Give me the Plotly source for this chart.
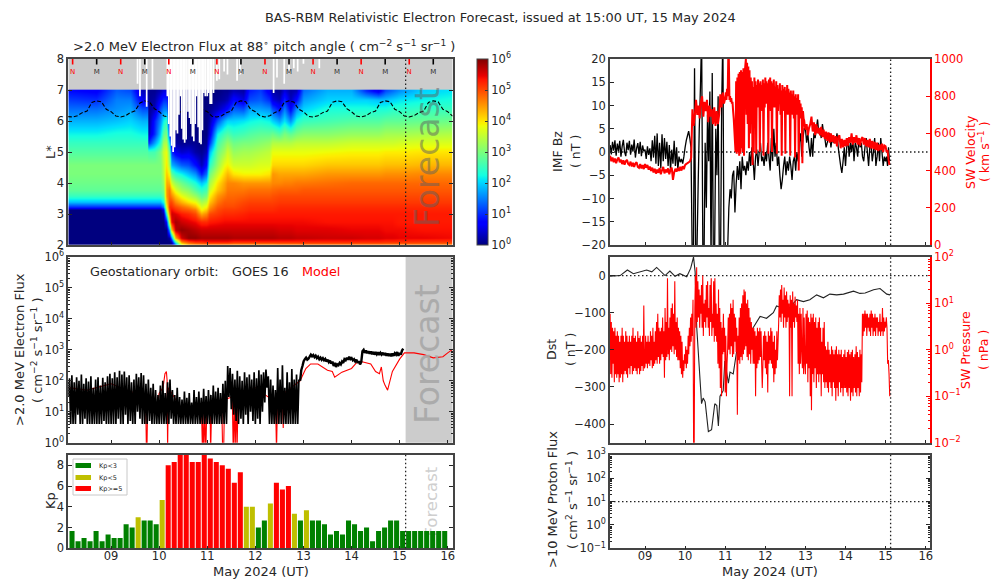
import numpy as np
import plotly.graph_objects as go

W, H = 992, 580
DAYS = [9, 10, 11, 12, 13, 14, 15, 16]
DAY_LABELS = ["09", "10", "11", "12", "13", "14", "15", "16"]
FORECAST_DAY = 15.125

# ---- heat map, log10 of flux, one list per time column, rows follow L_ROWS
L_ROWS = [2.0, 2.1, 2.25, 2.5, 2.75, 3.0, 3.15, 3.25, 3.4, 3.6, 3.8, 4.0, 4.3, 4.6, 5.0, 5.3, 5.6, 6.0, 6.4, 6.7, 6.98]
COL_DAYS = [8.11, 8.7, 9.1, 9.4, 9.65, 9.76, 9.78, 9.9, 10.02, 10.08, 10.14, 10.2, 10.26, 10.34, 10.45, 10.6, 10.75,
            10.88, 10.98, 11.04, 11.2, 11.35, 11.42, 11.55, 11.75, 11.88, 12.1, 12.3, 12.36, 12.5, 12.6, 12.72, 12.85,
            13.0, 13.5, 14.0, 14.3, 14.55, 14.7, 14.85, 15.0, 15.5, 16.11]
COLS = [
 [0,0,0,0,0,0,0,1.0,1.9,2.5,2.8,2.9,3.0,3.0,2.7,2.5,2.2,1.8,1.4,1.1,0.8],
 [0,0,0,0,0,0,0,1.0,1.9,2.5,2.8,2.9,3.0,3.0,2.7,2.5,2.2,1.8,1.4,1.0,0.7],
 [0,0,0,0,0,0,0,1.0,1.9,2.5,2.8,2.9,3.0,3.0,2.7,2.5,2.3,1.9,1.6,1.5,1.3],
 [0,0,0,0,0,0,0,1.0,1.9,2.5,2.8,2.9,3.0,3.0,2.7,2.5,2.3,2.0,1.7,1.5,1.2],
 [0,0,0,0,0,0,0,1.0,1.9,2.5,2.8,2.9,3.0,3.0,2.7,2.5,2.2,1.8,1.2,0.6,0.3],
 [0,0,0,0,0,0,0,1.0,1.9,2.5,2.8,2.9,3.0,3.0,2.7,2.5,2.2,1.8,1.2,0.6,0.3],
 [0,0,0,0,0,0,0,1.0,1.9,2.5,2.8,2.9,3.0,3.0,2.6,1.0,0.3,0.1,0.1,0.1,0.1],
 [0,0,0,0,0,0,0,1.0,1.9,2.5,2.8,2.9,3.0,3.0,2.6,1.7,1.0,0.9,0.3,0.2,0.1],
 [0,0,0,0,0,0,0,1.0,1.9,2.5,2.8,2.9,3.0,3.0,3.0,2.4,2.0,1.6,1.2,0.7,0.3],
 [0,0,0,0,0,0.2,0.6,1.5,2.3,2.8,3.0,3.2,3.4,3.5,3.6,3.3,2.8,2.2,1.5,1.0,0.5],
 [0,0,0,0,0.8,2.5,3.3,3.8,4.2,4.5,4.5,4.4,4.2,4.0,3.8,3.4,3.0,2.5,1.5,1.0,0.5],
 [0,0,0.2,1.8,3.8,4.8,5.1,5.2,5.0,4.8,4.7,4.3,3.8,3.2,2.8,2.0,1.0,0.5,0.3,0.2,0.1],
 [0,0.3,1.5,4.2,5.4,5.6,5.4,5.2,5.0,4.6,4.2,3.6,2.8,1.8,1.0,0.5,0.2,0.1,0,0,0],
 [1.2,2.6,4.4,5.7,5.8,5.5,5.2,5.0,4.6,4.2,3.7,3.2,2.4,1.6,0.6,0.2,0.1,0,0,0,0],
 [3.5,4.6,5.6,5.9,5.6,5.3,5.0,4.8,4.3,3.8,3.3,2.9,2.2,1.3,0.4,0.1,0,0,0,0,0],
 [4.2,5.0,5.9,5.8,5.5,5.2,4.9,4.6,4.0,3.5,3.1,2.6,1.9,1.2,0.5,0.1,0,0,0,0,0],
 [4.4,5.2,5.9,5.7,5.4,5.0,4.7,4.3,3.8,3.2,2.7,2.3,1.6,0.8,0.2,0.1,0,0,0,0,0],
 [4.5,5.2,5.8,5.6,5.2,4.4,3.9,3.7,3.3,2.8,2.4,1.9,0.9,0.3,0.1,0,0,0,0,0,0],
 [4.5,5.3,5.8,5.6,5.2,4.6,4.2,3.9,3.5,3.0,2.6,2.2,1.4,0.8,0.3,0.1,0,0,0,0,0],
 [4.5,5.3,5.8,5.6,5.3,5.0,4.7,4.5,4.2,3.9,3.6,3.3,2.9,2.4,1.8,1.0,0.5,0.2,0.1,0,0],
 [4.5,5.3,5.8,5.6,5.35,5.1,5.0,4.9,4.7,4.5,4.2,4.0,3.6,3.2,2.9,2.6,2.2,1.2,0.3,0.1,0],
 [4.5,5.3,5.8,5.6,5.4,5.2,5.1,5.0,4.9,4.7,4.5,4.4,4.1,3.8,3.3,3.0,2.6,1.8,0.6,0.2,0.1],
 [4.5,5.3,5.8,5.6,5.4,5.2,5.1,5.0,4.9,4.8,4.7,4.6,4.3,3.9,3.6,3.2,2.7,2.0,0.8,0.3,0.1],
 [4.4,5.2,5.75,5.6,5.4,5.2,5.1,5.0,4.9,4.8,4.7,4.6,4.0,3.6,3.2,2.9,2.5,2.0,1.3,0.8,0.3],
 [4.4,5.2,5.75,5.6,5.4,5.25,5.15,5.1,5.0,4.85,4.7,4.5,3.9,3.6,3.3,3.0,2.6,2.1,1.2,0.5,0.2],
 [4.4,5.2,5.75,5.6,5.4,5.3,5.2,5.15,5.05,4.9,4.75,4.5,3.9,3.6,3.3,3.0,2.7,2.2,1.7,1.2,0.9],
 [4.4,5.2,5.75,5.6,5.4,5.3,5.2,5.15,5.05,4.9,4.75,4.5,3.9,3.7,3.4,3.1,2.8,2.3,1.7,1.3,1.1],
 [4.4,5.2,5.75,5.6,5.4,5.3,5.2,5.15,5.05,4.9,4.75,4.5,4.0,3.7,3.5,3.2,2.8,2.2,1.6,1.0,0.6],
 [4.4,5.2,5.75,5.6,5.4,5.3,5.2,5.15,5.05,4.95,4.8,4.6,4.5,4.1,3.8,3.4,2.9,2.0,1.2,0.5,0.2],
 [4.5,5.2,5.7,5.55,5.4,5.3,5.25,5.2,5.1,5.0,4.85,4.6,4.4,4.1,3.8,3.4,2.7,1.7,0.8,0.3,0.1],
 [4.5,5.2,5.7,5.55,5.4,5.3,5.25,5.2,5.1,5.0,4.85,4.65,4.4,4.1,3.8,3.4,3.0,2.1,1.5,1.0,0.5],
 [4.5,5.2,5.7,5.55,5.4,5.3,5.25,5.2,5.1,5.0,4.85,4.65,4.4,4.1,3.8,3.4,2.8,1.6,0.7,0.3,0.2],
 [4.5,5.2,5.65,5.5,5.4,5.3,5.25,5.2,5.1,5.0,4.85,4.7,4.4,4.1,3.8,3.5,3.0,2.3,1.6,0.8,0.3],
 [4.6,5.2,5.65,5.5,5.4,5.3,5.25,5.2,5.1,5.0,4.9,4.7,4.4,4.1,3.8,3.5,3.1,2.5,2.0,1.7,1.4],
 [4.6,5.2,5.6,5.5,5.35,5.3,5.25,5.2,5.1,5.0,4.9,4.75,4.5,4.2,3.85,3.5,3.1,2.6,2.3,2.0,1.8],
 [4.6,5.2,5.6,5.45,5.35,5.3,5.25,5.2,5.1,5.0,4.9,4.8,4.5,4.2,3.9,3.6,3.2,2.7,2.3,2.0,1.8],
 [4.6,5.2,5.55,5.45,5.35,5.3,5.25,5.2,5.1,5.0,4.9,4.8,4.5,4.2,3.9,3.6,3.2,2.7,2.3,2.0,1.0],
 [4.6,5.2,5.55,5.45,5.35,5.3,5.25,5.2,5.1,5.0,4.9,4.8,4.5,4.2,3.9,3.6,3.2,2.7,2.3,1.9,0.6],
 [4.6,5.15,5.5,5.4,5.35,5.3,5.25,5.2,5.1,5.0,4.9,4.8,4.55,4.25,3.95,3.6,3.3,2.8,2.3,1.9,1.2],
 [4.6,5.15,5.5,5.4,5.35,5.3,5.25,5.2,5.1,5.0,4.9,4.8,4.55,4.25,3.95,3.6,3.3,2.8,2.4,2.0,1.4],
 [4.6,5.15,5.45,5.4,5.3,5.3,5.25,5.2,5.1,5.0,4.9,4.8,4.55,4.25,3.95,3.65,3.3,2.8,2.4,2.1,1.6],
 [4.6,5.1,5.45,5.35,5.3,5.3,5.25,5.2,5.1,5.0,4.9,4.8,4.6,4.3,4.0,3.7,3.35,2.85,2.5,2.2,2.0],
 [4.6,5.1,5.4,5.35,5.3,5.3,5.25,5.2,5.1,5.0,4.9,4.8,4.6,4.3,4.0,3.7,3.4,2.9,2.5,2.3,2.1],
]
# white streaks where there is no data: the day and the lowest L they reach
GAP_DAYS = [9.55, 9.60, 9.74, 9.86, 10.17, 10.2, 10.23, 10.26, 10.29, 10.32, 10.35, 10.38, 10.41, 10.44, 10.47, 10.5,
            10.53, 10.56, 10.6, 10.63, 10.66, 10.69, 10.72, 10.75, 10.78, 10.81, 10.84, 10.87, 10.9, 10.93, 10.96,
            11.0, 11.03, 11.06, 11.09, 11.13, 11.2, 11.25, 11.35, 11.42, 11.62, 11.68, 12.38, 12.45, 12.6, 12.7,
            12.8, 12.88, 13.0, 13.33]
GAP_LOW = [7.2, 6.8, 6.46, 7.05, 6.8, 5.9, 5.5, 5.2, 5.0, 5.15, 5.7, 5.6, 6.2, 6.8, 5.75, 5.4,
           5.3, 5.4, 6.3, 6.1, 5.9, 5.5, 5.35, 5.9, 6.8, 5.8, 5.3, 5.25, 5.7, 6.9, 6.8,
           6.8, 6.9, 6.55, 6.55, 6.9, 7.3, 7.35, 7.6, 7.5, 7.3, 7.5, 6.9, 7.4, 7.2, 7.6,
           7.7, 7.6, 7.85, 7.7]
GEO_L = [6.14, 6.13, 6.17, 6.27, 6.32, 6.6, 6.65, 6.62, 6.38, 6.3, 6.16,
         6.13, 6.17, 6.27, 6.33, 6.58, 6.65, 6.61, 6.4, 6.3, 6.16,
         6.13, 6.18, 6.27, 6.32, 6.6, 6.65, 6.62, 6.38, 6.3, 6.15,
         6.13, 6.17, 6.27, 6.32, 6.6, 6.65, 6.62, 6.38, 6.3, 6.16,
         6.13, 6.17, 6.27, 6.33, 6.6, 6.65, 6.61, 6.38, 6.3, 6.15,
         6.13, 6.17, 6.27, 6.32, 6.6, 6.65, 6.62, 6.4, 6.3, 6.16,
         6.13, 6.17, 6.27, 6.32, 6.6, 6.65, 6.62, 6.38, 6.3, 6.16,
         6.13, 6.17, 6.27, 6.32, 6.6, 6.65, 6.62, 6.38, 6.3, 6.16]
NOON_DAYS = [8.2, 9.2, 10.2, 11.2, 12.2, 13.2, 14.2, 15.2]
MIDNIGHT_DAYS = [8.7, 9.7, 10.7, 11.7, 12.7, 13.7, 14.7, 15.7]

# ---- GOES flux, one list per stretch of time
GOES_STORM = [
 (8.11, 9.0, [30,120,4,150,4,90,4,130,8,100,4,160,4,80,6,120,4,95,4,140,4,60,4,110,4,130,4,70,4,125,5,90,4,140,4,170]),
 (9.0, 10.0, [4,120,4,190,4,130,6,210,4,160,4,200,8,130,4,150,5,90,4,110,4,170,10,130,6,180,4,150,4,80,4,110,5,60,4,80,4,50,4,35]),
 (10.0, 11.0, [4,70,4,100,4,40,4,90,4,110,6,50,4,35,4,60,4,30,4,25,4,45,4,28,4,40,4,20,4,50,4,30,4,45,4,28,4,55,4,32]),
 (11.0, 12.0, [4,50,4,35,4,70,4,45,4,60,4,40,4,80,4,100,4,300,30,260,12,170,8,110,5,210,4,140,6,100,4,190,8,130,4,160,10,110,5,190]),
 (12.0, 12.93, [4,120,6,220,4,160,10,190,20,230,60,140,4,110,4,70,4,50,4,260,4,110,4,320,4,60,4,190,4,90,4,240,4,110,4,160,4,110]),
]
GOES_AFTER = [
 (12.93, 15.1, [100,220,300,430,500,560,480,520,600,700,620,680,580,650,540,600,500,560,480,540,460,510,420,480,400,450,360,420,
                300,380,280,340,320,380,340,420,380,500,460,560,480,600,500,540,460,500,420,480,380,430,340,400,900,1000,800,950,
                780,900,750,880,720,860,700,850,720,830,680,800,700,810,680,790,650,760,640,740,620,760,640,780,700,850,640,800,700,950,1100]),
]
MODEL_DAYS = [8.11, 8.5, 9.0, 9.5, 9.72, 9.735, 9.745, 9.76, 9.85, 9.95, 10.0, 10.08, 10.12, 10.15, 10.165, 10.175, 10.19, 10.5, 10.88, 10.9, 10.91,
              10.93, 10.95, 10.97, 10.99, 11.06, 11.07, 11.09, 11.3, 11.32, 11.34, 11.36, 11.52, 11.54, 11.56, 11.58, 11.6, 11.62, 11.64, 12.0,
              12.42, 12.44, 12.46, 12.56, 12.58, 12.6, 12.93, 13.05, 13.15, 13.3, 13.5, 13.6, 13.65, 13.8, 14.0, 14.1, 14.2, 14.4, 14.5,
              14.58, 14.62, 14.66, 14.7, 14.75, 14.85, 15.0, 15.1, 15.3, 15.5, 15.7, 15.9, 16.0, 16.11]
MODEL_FLUX = [60, 50, 80, 40, 20, 0.5, 0.5, 20, 11, 12, 40, 60, 170, 200, 100, 0.5, 60, 10, 12, 0.5, 12,
              0.5, 10, 0.5, 12, 10, 0.5, 12, 25, 0.5, 0.5, 25, 30, 0.5, 20, 0.5, 25, 0.5, 30, 60,
              20, 0.5, 20, 30, 3, 40, 100, 250, 350, 350, 220, 200, 130, 190, 250, 380, 420, 350, 200,
              170, 280, 100, 70, 50, 200, 500, 800, 800, 700, 550, 600, 800, 1050]

# ---- Kp, one value for each three hours from 8.125
KP_VALUES = [1.67,.67,1,.67,1.67,.67,1.33,1,1,2.33,2,3,2.67,2.67,2.33,4.67,8,8.33,9,9,8.33,8.33,9,8.67,8.33,8,7.67,6.33,7.33,
             4,4,2,2.67,4.33,6.33,5.67,6,3.33,2.67,3.67,2.67,2.67,2.33,1.33,1.67,1.33,2.67,2.33,1.67,2,.67,1.67,2,2.67,2.67,
             1.67,1.67,1.67,1.67,1.67,1.67,1.67,1.67]
KP_FIRST_DAY = 8.125
KP_STEP = 0.125

# ---- solar wind and Dst
BZ_SEGMENTS = [
 (8.13, 9.0, [1.5,-.5,2.2,.3,2.5,-.8,1.8,.2,2.4,-1,1.2,2.6,0,-.9,2,.4,2.4,-.6,1.6,.1,2.7,-1.2,.8,1.9,-.4,2.2,-.9,1.4,.2]),
 (9.0, 10.0, [.5,-1.5,1.2,-.6,.8,-2,2.5,-1.2,3.5,-2.5,4,-3,2,-3.5,3.8,-2,3,-1.5,2.2,-3,1.5,-4,.5,-2.5,2.4,-3,1,-3.8,-1,-2.2,-1.5,-2.5,-1]),
 (10.0, 11.0, [1,2.5,3.5,4.5,3,1,-22,-25,18,-24,-22,-8,5,14,25,-20,-24,2,-12,8,-2,13,-24,17,-25,-22,5,-5,12,-22,-25,10,25,-24]),
 (11.0, 12.0, [-22,-25,-21,-12,-8,-10,-5,-4,-13,-7,-3,-6,-2,-8,-1,-4,-3,-5,-2,-4,0,-3,1,-2,-6,-1,.5,-3,0,2,-2,-1,-3]),
 (12.0, 13.0, [0,-2,2,-1,-4,3,-2,5,-1,2,-3,-1,-5,-8,-6,-3,-1,-5,-2,-4,-1,-3,-6,-2,-1,-4,0,-2,2,4,-1,3,5]),
 (13.0, 14.0, [5,2,4,1,-1,3,-1,4,3,5,7,4,5,3,6,4,3,1,2,3,4,1,3,2,3,2,4,1,-1,-3,-4.5,-2,1]),
 (14.0, 15.0, [-3,1,3,-1,2,0,3,-2,2,1,-1,3,1,2,-1,-2,1,3,0,-3,1,2,-2,0,3,-3,-1,2,-2,3,0,-3,-1]),
 (15.0, 15.12, [-2,-1,-3,1,-2]),
]
SPEED_SEGMENTS = [
 (8.13, 9.0, [480,450,470,445,465,440,460,470,445,458,435,455,432,450,458,436,430,448,422,442,420,438,445,420,415,435,412,430,408]),
 (9.0, 10.0, [435,415,430,405,422,398,416,390,410,384,405,388,414,380,402,420,385,406,390,412,380,405,416,350,390,410,394,414,398,420,400,424,408]),
 (10.0, 11.0, [430,436,440,445,450,470,730,640,700,780,700,750,680,770,800,690,770,720,780,660,750,690,730,650,740,640,720,650,700,810,740,820,760]),
 (11.0, 12.0, [790,820,780,840,800,1000,1000,780,800,770,790,760,770,720,680,620,560,500,
               880,490,900,500,920,480,930,490,940,520,930,500,950,480,920,
               960,1000,700,980,650,960,520,940,600,900,760,880,430,850,500,
               900,780,880,490,860,740,890,780,870,500,880,760,860,720,890,480,870,740]),
 (12.0, 13.0, [900,760,880,800,870,490,890,760,900,720,880,500,870,780,890,740,850,760,880,490,860,720,840,780,870,700,830,480,860,760,
               840,720,850,490,830,740,860,700,840,720,820,480,830,720,810,700,830,680,800,470,810,720,790,700,810,400,780,700,760,680,740,440,720,680,670,640]),
 (13.0, 14.0, [620,650,590,630,650,690,610,660,590,650,600,630,590,635,580,620,570,610,560,605,550,600,555,590,545,585,530,580,590,520,570,525,565]),
 (14.0, 15.0, [530,575,535,580,550,600,540,580,550,590,540,575,535,570,580,540,575,530,565,525,570,520,560,515,555,510,550,505,540,510,545,500,535]),
 (15.0, 15.12, [530,500,510,460,430]),
]
PRESSURE_SEGMENTS = [
 (8.13, 9.0, [6,.3,4,.25,3,.5,2.5,.2,3,.3,2,.25,2.5,.3,2,.2,1.5,.25,2,.3,3,.2,2,.3,1.5,.35,2.5,.3,2,.25,
              1.5,.4,2,.3,1.5,.45,2,.3,3,.35,1.8,.4,2,.35,1.5,.3,2.5,.4,1.8,.3,2,.35,1.5,.45,2,.35,9,.4]),
 (9.0, 10.0, [.45,2,.5,1.5,.4,2,.5,1.5,.45,2.5,.6,2,.4,3,.45,1.5,.5,2.5,.6,4,.5,6,.7,3,.5,2.5,.6,3,.8,5,.7,2.5,.25,
              8,.6,4,.7,35,.8,3,.6,5,1,8,.9,10,1.2,6,.8,30,1,4,.7,5,.6,3,.6,2.5,.4,2,.3,1.5,.25,.6,.35,.8]),
 (10.0, 11.0, [.5,1.2,.4,1,.5,2,.8,3,1.2,5,1.5,6,2,12,.01,.01,8,40,3,60,4,30,5,20,3,15,6,25,3,40,2,10,4,12,3,25,5,30,3,8,2,25,4,35,2,6,3,30,
               1.5,35,2,10,1.5,6,.5,20,.4,8,.15,4,.1,3,.8,6,.9,3]),
 (11.0, 12.0, [.12,2,.1,.5,1,5,1,6,.8,10,1.2,8,.7,12,.8,6,1.5,5,.9,3,.04,2,.6,5,.5,8,.7,10,.6,15,.8,20,1,18,1.2,10,.7,12,.6,8,.8,5,.5,4,1,3,.5,3,.5,
               2.5,.1,2,.4,3,.5,2.5,.6,3,.7,2.5,.5,.15,.45,2,.6,2.5]),
 (12.0, 13.0, [.4,2,.3,1.5,.12,2.5,.5,2,.6,3,.5,2.5,.4,1.5,.2,2,.3,1,.4,2.5,.6,1.5,4,15,5,20,4,25,6,12,3,22,5,15,3,18,4,12,5,10,.1,15,3,12,.1,18,4,10,3,14,5,9,4,12,
               .5,6,.3,8,.5,6,1,.4,8,.3,5,.5]),
 (13.0, 14.0, [.3,6,.5,7,.2,5,.4,4,.1,6,.05,5,.3,6,.2,4,.4,5,.15,3,.3,4,.2,5,.3,3,.1,1.5,.3,3,.2,4,.15,1.2,.2,1,.15,1.5,.12,1,.2,.8,.15,1.2,.1,1,.2,.8,.15,1,.08,1.2,.15,.8,.1,1,.2,.8,.12,1,.15,.7,.1,.8,.15,1]),
 (14.0, 15.0, [.15,.7,.12,.9,.1,1,.15,.8,.08,.9,.12,1,.1,.7,.15,.8,.12,1.2,.1,.9,.15,.7,.1,1,.12,.8,.2,6,2,6,2.5,7,3,6,2,6,3,5,2.5,6,2,7,3,6,2,5,2.5,6,2,5,3,5,2,4,2.5,6,2,4,2.5,8,2,5,2.5,4]),
 (15.0, 15.12, [3,5,3,.5,.6,.3,.1]),
]
DST_DAYS = [8.13,8.38,8.56,8.71,9.04,9.17,9.29,9.5,9.62,9.75,9.87,10.04,10.14,10.21,10.25,10.29,10.41,10.45,10.5,10.58,10.66,10.74,
            10.79,10.83,10.87,10.95,10.99,11.08,11.12,11.2,11.29,11.37,11.54,11.7,11.87,12.03,12.2,12.28,12.37,12.49,12.62,12.78,
            12.95,13.11,13.28,13.45,13.61,13.78,13.95,14.2,14.36,14.49,14.7,14.86,15.03,15.11]
DST_VALUES = [-2,0,15,5,15,10,22,0,12,-2,5,-3,20,50,10,-140,-345,-330,-340,-420,-415,-345,-350,-405,-325,-310,-230,-290,-260,-265,
              -200,-180,-165,-140,-110,-115,-100,-82,-85,-100,-85,-65,-70,-65,-52,-60,-50,-52,-50,-42,-48,-47,-38,-35,-50,-52]

TITLE = "BAS-RBM Relativistic Electron Forecast, issued at 15:00 UT, 15 May 2024"
TITLE_FLUX = ">2.0 MeV Electron Flux at 88<sup>∘</sup> pitch angle ( cm<sup>−2</sup> s<sup>−1</sup> sr<sup>−1</sup> )"
FONT = "DejaVu Sans"
INK = "#262626"
JET = [[0, "#00007f"], [.11, "#0000ff"], [.125, "#0000ff"], [.34, "#00dbff"], [.35, "#00e6f7"], [.375, "#14ffe2"],
       [.64, "#eeff08"], [.65, "#f7f500"], [.66, "#ffec00"], [.89, "#ff1300"], [.91, "#e80000"], [1, "#7f0000"]]
KP_GREEN, KP_YELLOW, KP_RED = "#008000", "#bfbf00", "#ff0000"


def expand(segments):
    xs, ys = [], []
    for start, end, vals in segments:
        n = len(vals)
        xs += [start + (end - start) * i / n for i in range(n)]
        ys += vals
    return xs, ys


def px(x):
    return x / W


def py(y):
    return 1 - y / H


def seg(xs, lo, hi):
    ox, oy = [], []
    for i, x in enumerate(xs):
        l = lo[i] if isinstance(lo, list) else lo
        ox += [x, x, None]
        oy += [hi, l, None]
    return ox, oy


LEFT = (68.3, 452.7)
RIGHT = (610, 930)
ROW1 = (59, 245)
ROW2 = (257, 442.7)
ROW3 = (455, 548.3)
XL = [8.11, 16.104]
XR = [8.127, 16.107]


def line(color, width):
    return dict(color=color, width=width, simplify=False)


def xaxis(dom, rng, anchor, labels=False):
    return dict(domain=[px(dom[0]), px(dom[1])], range=rng, anchor=anchor, tickmode="array", tickvals=DAYS,
                ticktext=DAY_LABELS if labels else [""] * 8, showticklabels=labels, ticks="inside", ticklen=3,
                tickcolor=INK, showgrid=False, zeroline=False, showline=True, linecolor="#444", linewidth=1.6,
                mirror=True, tickfont=dict(size=11.5, color=INK), ticklabelstandoff=-4)


def yaxis(row, anchor, **kw):
    base = dict(domain=[py(row[1]), py(row[0])], anchor=anchor, showgrid=False, zeroline=False, showline=True,
                linecolor="#444", linewidth=1.6, ticks="inside", ticklen=4, tickcolor=INK,
                tickfont=dict(size=11.5, color=INK))
    base.update(kw)
    return base


def logaxis(row, anchor, lo, hi, color=None, **kw):
    vals = [10.0 ** e for e in range(lo, hi + 1)]
    text = [f"10<sup>{str(e).replace('-', '−')}</sup>" for e in range(lo, hi + 1)]
    d = yaxis(row, anchor, type="log", range=[lo, hi], tickmode="array", tickvals=vals, ticktext=text,
              minor=dict(ticks="inside", ticklen=2, tickcolor=color or INK, dtick="D1", showgrid=False), **kw)
    return d


fig = go.Figure()
z = np.array(COLS).T
z = np.vstack([z, z[-1]])
fig.add_trace(go.Heatmap(x=COL_DAYS, y=L_ROWS + [7.0], z=z, zmin=0, zmax=6, zsmooth="best", colorscale=JET,
                         xaxis="x", yaxis="y", hoverinfo="skip",
                         colorbar=dict(x=px(477), xanchor="left", y=py(59), yanchor="top", lenmode="pixels", len=186,
                                       thickness=11, xpad=0, ypad=0, outlinewidth=1, outlinecolor="#444",
                                       tickmode="array", tickvals=[0, 1, 2, 3, 4, 5, 6],
                                       ticktext=[f"10<sup>{e}</sup>" for e in range(7)],
                                       ticks="inside", ticklen=3, tickcolor="#333", tickfont=dict(size=11.5, color=INK))))
geo_x = [8.1 + 0.1 * i for i in range(len(GEO_L))]
fig.add_trace(go.Scatter(x=geo_x, y=GEO_L, mode="lines", line=dict(color="black", width=1.1, dash="4px,2px"),
                         xaxis="x", yaxis="y", showlegend=False))
gx, gy = seg(GAP_DAYS, GAP_LOW, 8)
fig.add_trace(go.Scatter(x=gx, y=gy, mode="lines", line=dict(color="white", width=1.7), xaxis="x", yaxis="y",
                         showlegend=False))
for days, col, mark in [(NOON_DAYS, "red", "N"), (MIDNIGHT_DAYS, "black", "M")]:
    tx, ty = seg(days, 7.82, 8)
    fig.add_trace(go.Scatter(x=tx, y=ty, mode="lines", line=dict(color=col, width=1.6), xaxis="x", yaxis="y",
                             showlegend=False))
    fig.add_trace(go.Scatter(x=days, y=[7.58] * len(days), mode="text", text=[mark] * len(days),
                             textfont=dict(size=7, color=col if mark == "N" else "#333"), xaxis="x", yaxis="y",
                             showlegend=False))

fig.add_trace(go.Scatter(x=MODEL_DAYS, y=MODEL_FLUX, mode="lines", line=line("red", 1.1), xaxis="x2",
                         yaxis="y2", showlegend=False))
g1x, g1y = expand(GOES_STORM)
fig.add_trace(go.Scatter(x=g1x, y=g1y, mode="lines", line=line("black", 1.7), xaxis="x2", yaxis="y2", showlegend=False))
g2x, g2y = expand(GOES_AFTER)
fig.add_trace(go.Scatter(x=g2x, y=g2y, mode="lines", line=line("black", 2.4), xaxis="x2", yaxis="y2", showlegend=False))

kp_x = [KP_FIRST_DAY + KP_STEP * (i + 0.5) for i in range(len(KP_VALUES))]
for name, col, test in [("Kp&lt;3", KP_GREEN, lambda v: v < 3), ("Kp&lt;5", KP_YELLOW, lambda v: 3 <= v < 5),
                        ("Kp&gt;=5", KP_RED, lambda v: v >= 5)]:
    idx = [i for i, v in enumerate(KP_VALUES) if test(v)]
    fig.add_trace(go.Bar(x=[kp_x[i] for i in idx], y=[KP_VALUES[i] for i in idx], width=0.105, marker_color=col,
                         marker_line_width=0, name=name, xaxis="x3", yaxis="y3", showlegend=False))

bx, by = expand(BZ_SEGMENTS)
fig.add_trace(go.Scatter(x=bx, y=by, mode="lines", line=line("black", 1.3), xaxis="x4", yaxis="y4", showlegend=False))
vx, vy = expand(SPEED_SEGMENTS)
fig.add_trace(go.Scatter(x=vx, y=vy, mode="lines", line=line("red", 2), xaxis="x4", yaxis="y5", showlegend=False))
fig.add_trace(go.Scatter(x=DST_DAYS, y=DST_VALUES, mode="lines", line=line("#222", 1.1), xaxis="x5",
                         yaxis="y6", showlegend=False))
sx, sy = expand(PRESSURE_SEGMENTS)
fig.add_trace(go.Scatter(x=sx, y=sy, mode="lines", line=line("red", 1.1), xaxis="x5", yaxis="y7", showlegend=False))
fig.add_trace(go.Scatter(x=[9], y=[1e9], mode="markers", marker=dict(opacity=0), xaxis="x6", yaxis="y8", showlegend=False))

DOT = dict(color="#222", width=1.3, dash="1.5px,2.5px")
shapes = [
    dict(type="rect", xref="x", yref="y", x0=XL[0], x1=XL[1], y0=7, y1=8, fillcolor="#cccccc", line_width=0, layer="below"),
    dict(type="rect", xref="x2", yref="y2 domain", x0=15.125, x1=XL[1], y0=0, y1=1, fillcolor="#cccccc", line_width=0, layer="below"),
    dict(type="rect", xref="x3", yref="y3", x0=15.175, x1=16.1, y0=0.3, y1=8.7, fillcolor="rgba(0,0,0,0)", line_width=0,
         layer="below", label=dict(text="Forecast", textangle=-90, textposition="middle center",
                                   font=dict(size=16.5, color="#cfcfcf", family=FONT))),
]
for xr, yr in [("x", "y domain"), ("x3", "y3 domain"), ("x4", "y4 domain"), ("x5", "y6 domain"), ("x6", "y8 domain")]:
    shapes.append(dict(type="line", xref=xr, yref=yr, x0=FORECAST_DAY, x1=FORECAST_DAY, y0=0, y1=1, line=DOT, layer="above"))
shapes.append(dict(type="line", xref="x4 domain", yref="y4", x0=0, x1=1, y0=0, y1=0, line=DOT, layer="below"))
shapes.append(dict(type="line", xref="x5 domain", yref="y6", x0=0, x1=1, y0=0, y1=0, line=DOT, layer="below"))
shapes.append(dict(type="line", xref="x6 domain", yref="y8", x0=0, x1=1, y0=10, y1=10, line=DOT, layer="above"))

# legend box of the Kp panel
def box(x0, x1, y0, y1, fill, edge=None):
    return dict(type="rect", xref="paper", yref="paper", x0=px(x0), x1=px(x1), y0=py(y1), y1=py(y0), fillcolor=fill,
                line=dict(color=edge or fill, width=1 if edge else 0), layer="above")


shapes += [box(73, 127, 459, 495, "white", "#c8c8c8"), box(75.5, 91, 463, 468, KP_GREEN),
           box(75.5, 91, 475, 480, KP_YELLOW), box(75.5, 91, 486, 491, KP_RED)]


def note(x, y, text, size=13, color=INK, angle=0, anchor="center", op=1):
    return dict(xref="paper", yref="paper", x=px(x), y=py(y), text=text, showarrow=False, textangle=angle,
                font=dict(size=size, color=color, family=FONT), xanchor=anchor, yanchor="middle", opacity=op)


ann = [
    note(500, 17, TITLE, 12.9),
    note(71, 46, TITLE_FLUX, 13, anchor="left"),
    note(50, 152, "L*", 13, angle=-90),
    note(427, 157, "Forecast", 33, "#606060", -90, op=0.5),
    note(427, 354, "Forecast", 33, "#a8a8a8", -90, op=0.9),
    note(88, 271, "Geostationary orbit:", 12.8, anchor="left"),
    note(230, 271, "GOES 16", 12.8, anchor="left"),
    note(300, 271, "Model", 12.8, "red", anchor="left"),
    note(19, 350, ">2.0 MeV Electron Flux", 13, angle=-90),
    note(37, 350, "( cm<sup>−2</sup> s<sup>−1</sup> sr<sup>−1</sup> )", 13, angle=-90),
    note(50, 501, "Kp", 13, angle=-90),
    note(261, 571, "May 2024 (UT)", 13),
    note(557, 152, "IMF Bz", 12.5, angle=-90),
    note(575, 152, "( nT )", 12.5, angle=-90),
    note(970, 152, "SW Velocity", 12.5, "red", -90),
    note(984, 152, "( km s<sup>−1</sup> )", 12.5, "red", -90),
    note(551, 350, "Dst", 12.5, angle=-90),
    note(570, 350, "( nT )", 12.5, angle=-90),
    note(965, 350, "SW Pressure", 12.5, "red", -90),
    note(983, 350, "( nPa )", 12.5, "red", -90),
    note(553, 500, ">10 MeV Proton Flux", 13, angle=-90),
    note(572, 500, "( cm<sup>2</sup> s<sup>−1</sup> sr<sup>−1</sup> )", 13, angle=-90),
    note(770, 571, "May 2024 (UT)", 13),
    note(97, 465.5, "Kp&lt;3", 6.5, anchor="left"),
    note(97, 477.5, "Kp&lt;5", 6.5, anchor="left"),
    note(97, 488.5, "Kp&gt;=5", 6.5, anchor="left"),
]

fig.update_layout(
    width=W, height=H, margin=dict(l=0, r=0, t=0, b=0, autoexpand=False), autosize=False, paper_bgcolor="white",
    plot_bgcolor="white", font=dict(family=FONT, color=INK), shapes=shapes, annotations=ann, barmode="overlay",
    showlegend=False,
    xaxis=xaxis(LEFT, XL, "y"),
    yaxis=yaxis(ROW1, "x", range=[2, 8], tickmode="array", tickvals=[2, 3, 4, 5, 6, 7, 8], mirror="ticks"),
    xaxis2=xaxis(LEFT, XL, "y2"),
    yaxis2=logaxis(ROW2, "x2", 0, 6, mirror="ticks"),
    xaxis3=xaxis(LEFT, XL, "y3", True),
    yaxis3=yaxis(ROW3, "x3", range=[0, 9], tickmode="array", tickvals=[0, 2, 4, 6, 8], mirror="ticks"),
    xaxis4=xaxis(RIGHT, XR, "y4"),
    yaxis4=yaxis(ROW1, "x4", range=[-20, 20], tickmode="array", tickvals=[-20, -15, -10, -5, 0, 5, 10, 15, 20],
                 ticktext=["−20", "−15", "−10", "−5", "0", "5", "10", "15", "20"]),
    yaxis5=yaxis(ROW1, "x4", range=[0, 1000], overlaying="y4", side="right", tickmode="array",
                 tickvals=[0, 200, 400, 600, 800, 1000], linecolor="red", tickcolor="red", tickfont=dict(size=11.5, color="red")),
    xaxis5=xaxis(RIGHT, XR, "y6"),
    yaxis6=yaxis(ROW2, "x5", range=[-450, 50], tickmode="array", tickvals=[-400, -300, -200, -100, 0],
                 ticktext=["−400", "−300", "−200", "−100", "0"]),
    yaxis7=logaxis(ROW2, "x5", -2, 2, color="red", overlaying="y6", side="right"),
    xaxis6=xaxis(RIGHT, XR, "y8", True),
    yaxis8=logaxis(ROW3, "x6", -1, 3, mirror="ticks"),
)
fig.layout.yaxis7.update(linecolor="red", tickcolor="red", tickfont=dict(size=11.5, color="red"))

fig.write_html("out.html", config=dict(displayModeBar=False),
               post_script="document.body.style.margin='0';document.body.style.overflow='hidden';")
